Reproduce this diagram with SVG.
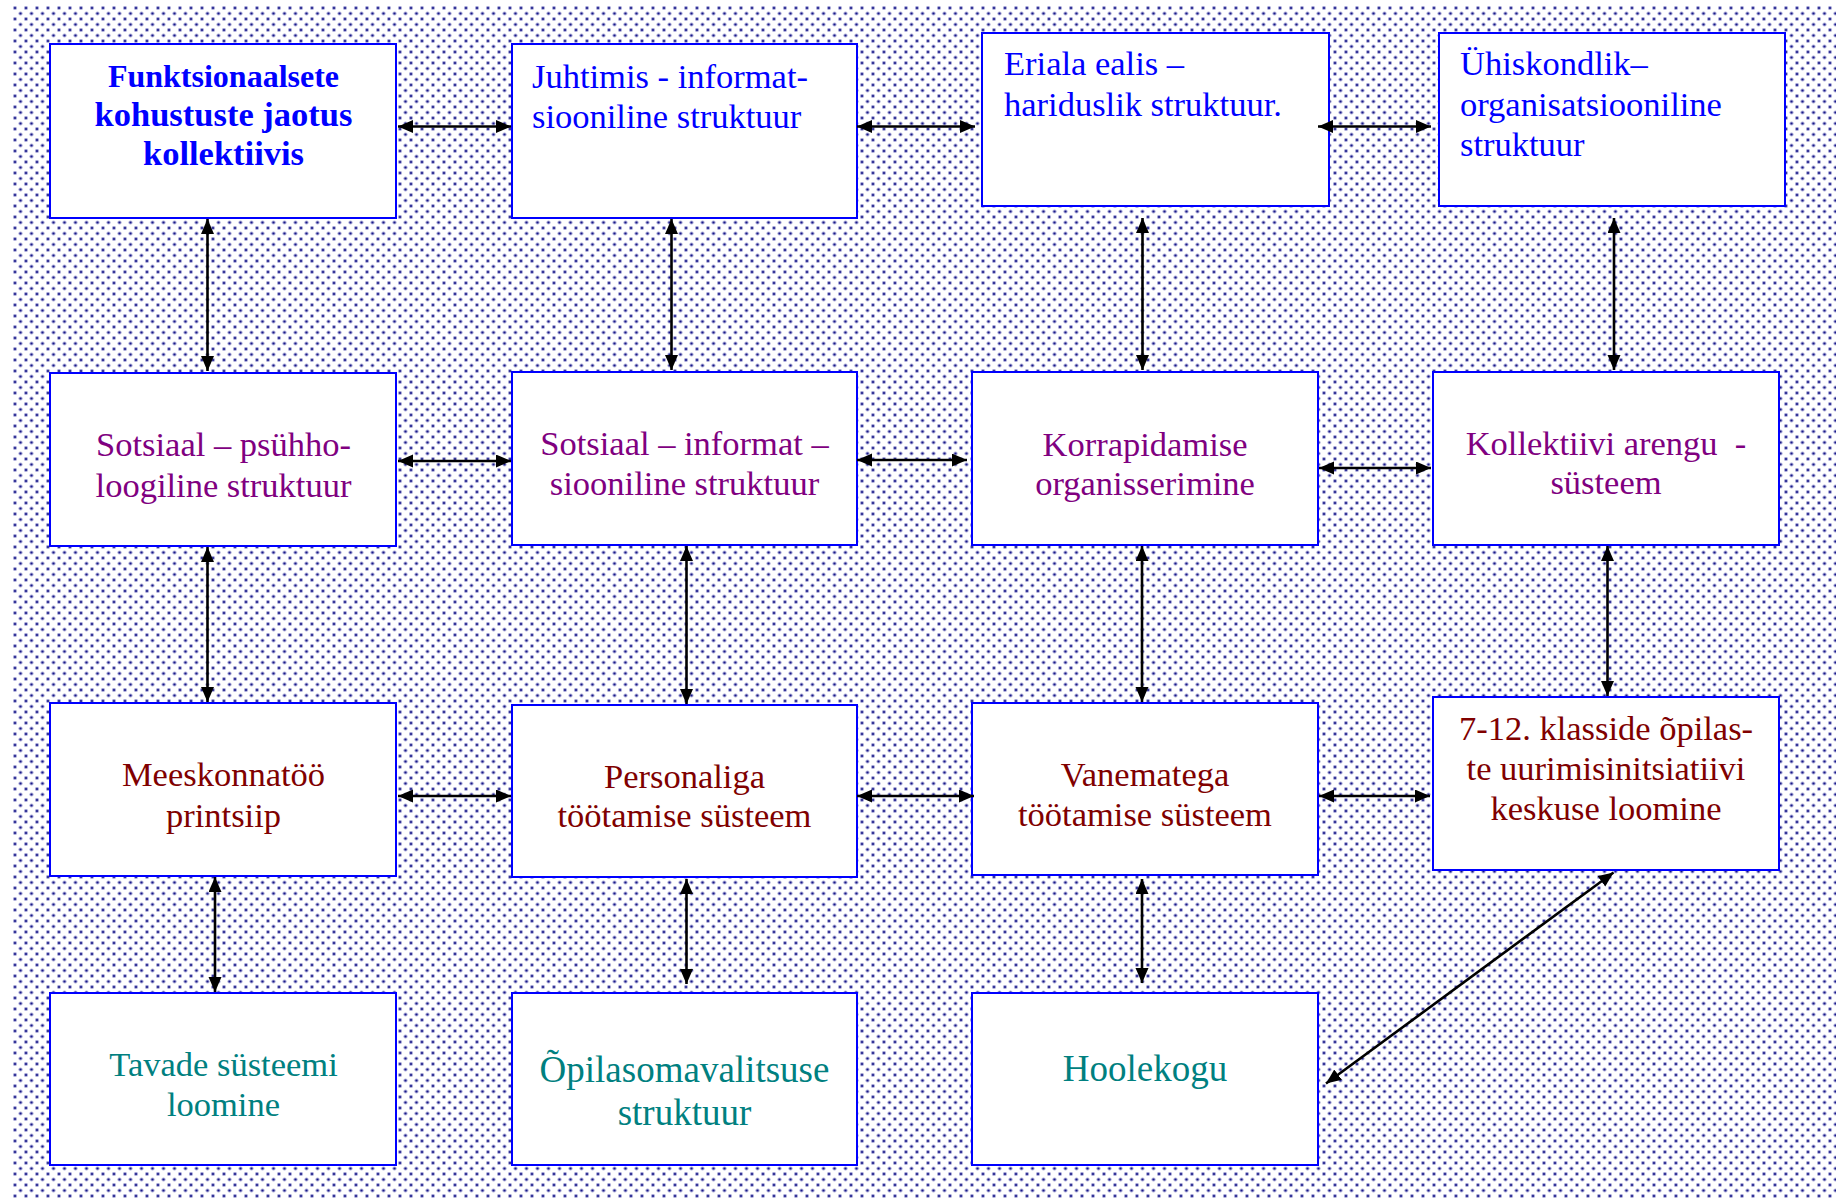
<svg xmlns="http://www.w3.org/2000/svg" width="1836" height="1198" viewBox="0 0 1836 1198">
<defs>
<pattern id="dots" width="11" height="11" patternUnits="userSpaceOnUse" x="13" y="6">
<rect width="11" height="11" fill="#ffffff"/>
<circle cx="2" cy="2" r="2.1" fill="#a8a8d8"/>
<circle cx="7.5" cy="7.5" r="2.1" fill="#a8a8d8"/>
<circle cx="2" cy="2" r="1.1" fill="#1a1a88"/>
<circle cx="7.5" cy="7.5" r="1.1" fill="#1a1a88"/>
</pattern>
<marker id="ah" markerUnits="userSpaceOnUse" markerWidth="16" markerHeight="14" refX="15" refY="6.5" orient="auto-start-reverse">
<path d="M0,0 L15,6.5 L0,13 Z" fill="#000"/>
</marker>
</defs>
<style>
.box{fill:#fff;stroke:#0000ff;stroke-width:2}
.t{font-family:"Liberation Serif","Times New Roman",serif;font-size:34.5px}
.c{text-anchor:middle}
.blue{fill:#0000ff}
.bold{font-weight:bold;font-size:34.5px}
.b1{font-size:32px}
.pur{fill:#800080}
.red{fill:#800000}
.teal{fill:#008080}
.big{font-size:37px}
.con line{stroke:#000;stroke-width:2.6;marker-start:url(#ah);marker-end:url(#ah)}
</style>
<rect x="0" y="0" width="1836" height="1198" fill="#fff"/>
<rect x="12" y="5" width="1824" height="1193" fill="url(#dots)"/>

<g id="n1"><rect class="box" x="50" y="44" width="346" height="174"/>
<text class="t c blue bold b1" x="223.5" y="87">Funktsionaalsete</text>
<text class="t c blue bold" x="223.5" y="126">kohustuste jaotus</text>
<text class="t c blue bold" x="223.5" y="165">kollektiivis</text></g>

<g id="n2"><rect class="box" x="512" y="44" width="345" height="174"/>
<text class="t blue" x="532" y="88">Juhtimis - informat-</text>
<text class="t blue" x="532" y="127.5">siooniline struktuur</text></g>

<g id="n3"><rect class="box" x="982" y="33" width="347" height="173"/>
<text class="t blue" x="1004" y="75">Eriala ealis –</text>
<text class="t blue" x="1004" y="116">hariduslik struktuur.</text></g>

<g id="n4"><rect class="box" x="1439" y="33" width="346" height="173"/>
<text class="t blue" x="1460" y="75">Ühiskondlik–</text>
<text class="t blue" x="1460" y="116">organisatsiooniline</text>
<text class="t blue" x="1460" y="156">struktuur</text></g>

<g id="n5"><rect class="box" x="50" y="373" width="346" height="173"/>
<text class="t c pur" x="223.5" y="455.5">Sotsiaal – psühho-</text>
<text class="t c pur" x="223.5" y="497">loogiline struktuur</text></g>

<g id="n6"><rect class="box" x="512" y="372" width="345" height="173"/>
<text class="t c pur" x="684.5" y="455">Sotsiaal – informat –</text>
<text class="t c pur" x="684.5" y="494.5">siooniline struktuur</text></g>

<g id="n7"><rect class="box" x="972" y="372" width="346" height="173"/>
<text class="t c pur" x="1145" y="455.5">Korrapidamise</text>
<text class="t c pur" x="1145" y="495">organisserimine</text></g>

<g id="n8"><rect class="box" x="1433" y="372" width="346" height="173"/>
<text class="t c pur" x="1606" y="455" style="white-space:pre">Kollektiivi arengu  -</text>
<text class="t c pur" x="1606" y="494">süsteem</text></g>

<g id="n9"><rect class="box" x="50" y="703" width="346" height="173"/>
<text class="t c red" x="223.5" y="786">Meeskonnatöö</text>
<text class="t c red" x="223.5" y="827">printsiip</text></g>

<g id="n10"><rect class="box" x="512" y="705" width="345" height="172"/>
<text class="t c red" x="684.5" y="788">Personaliga</text>
<text class="t c red" x="684.5" y="827">töötamise süsteem</text></g>

<g id="n11"><rect class="box" x="972" y="703" width="346" height="172"/>
<text class="t c red" x="1145" y="786">Vanematega</text>
<text class="t c red" x="1145" y="826">töötamise süsteem</text></g>

<g id="n12"><rect class="box" x="1433" y="697" width="346" height="173"/>
<text class="t c red" x="1606" y="740">7-12. klasside õpilas-</text>
<text class="t c red" x="1606" y="779.5">te uurimisinitsiatiivi</text>
<text class="t c red" x="1606" y="820">keskuse loomine</text></g>

<g id="n13"><rect class="box" x="50" y="993" width="346" height="172"/>
<text class="t c teal" x="223.5" y="1076">Tavade süsteemi</text>
<text class="t c teal" x="223.5" y="1116">loomine</text></g>

<g id="n14"><rect class="box" x="512" y="993" width="345" height="172"/>
<text class="t c teal big" x="684.5" y="1082">Õpilasomavalitsuse</text>
<text class="t c teal big" x="684.5" y="1125">struktuur</text></g>

<g id="n15"><rect class="box" x="972" y="993" width="346" height="172"/>
<text class="t c teal big" x="1145" y="1081">Hoolekogu</text></g>

<g id="connectors" class="con">
<line x1="398" y1="126.5" x2="511" y2="126.5"/>
<line x1="857" y1="126.5" x2="975" y2="126.5"/>
<line x1="1318" y1="126.5" x2="1431" y2="126.5"/>
<line x1="398" y1="461" x2="511" y2="461"/>
<line x1="857" y1="460" x2="967" y2="460"/>
<line x1="1319" y1="468" x2="1431" y2="468"/>
<line x1="398" y1="796" x2="511" y2="796"/>
<line x1="857" y1="796" x2="974" y2="796"/>
<line x1="1319" y1="796" x2="1430" y2="796"/>
<line x1="207.5" y1="219" x2="207.5" y2="371"/>
<line x1="207.5" y1="547" x2="207.5" y2="702"/>
<line x1="215" y1="877" x2="215" y2="992"/>
<line x1="671.5" y1="219" x2="671.5" y2="370"/>
<line x1="686.5" y1="546" x2="686.5" y2="704"/>
<line x1="686.5" y1="879" x2="686.5" y2="984"/>
<line x1="1142.5" y1="218" x2="1142.5" y2="370"/>
<line x1="1142" y1="546" x2="1142" y2="702"/>
<line x1="1142" y1="879" x2="1142" y2="983"/>
<line x1="1614" y1="218" x2="1614" y2="370"/>
<line x1="1607.5" y1="546" x2="1607.5" y2="696"/>
<line x1="1613.5" y1="872.5" x2="1326" y2="1083.5"/>
</g>
</svg>
